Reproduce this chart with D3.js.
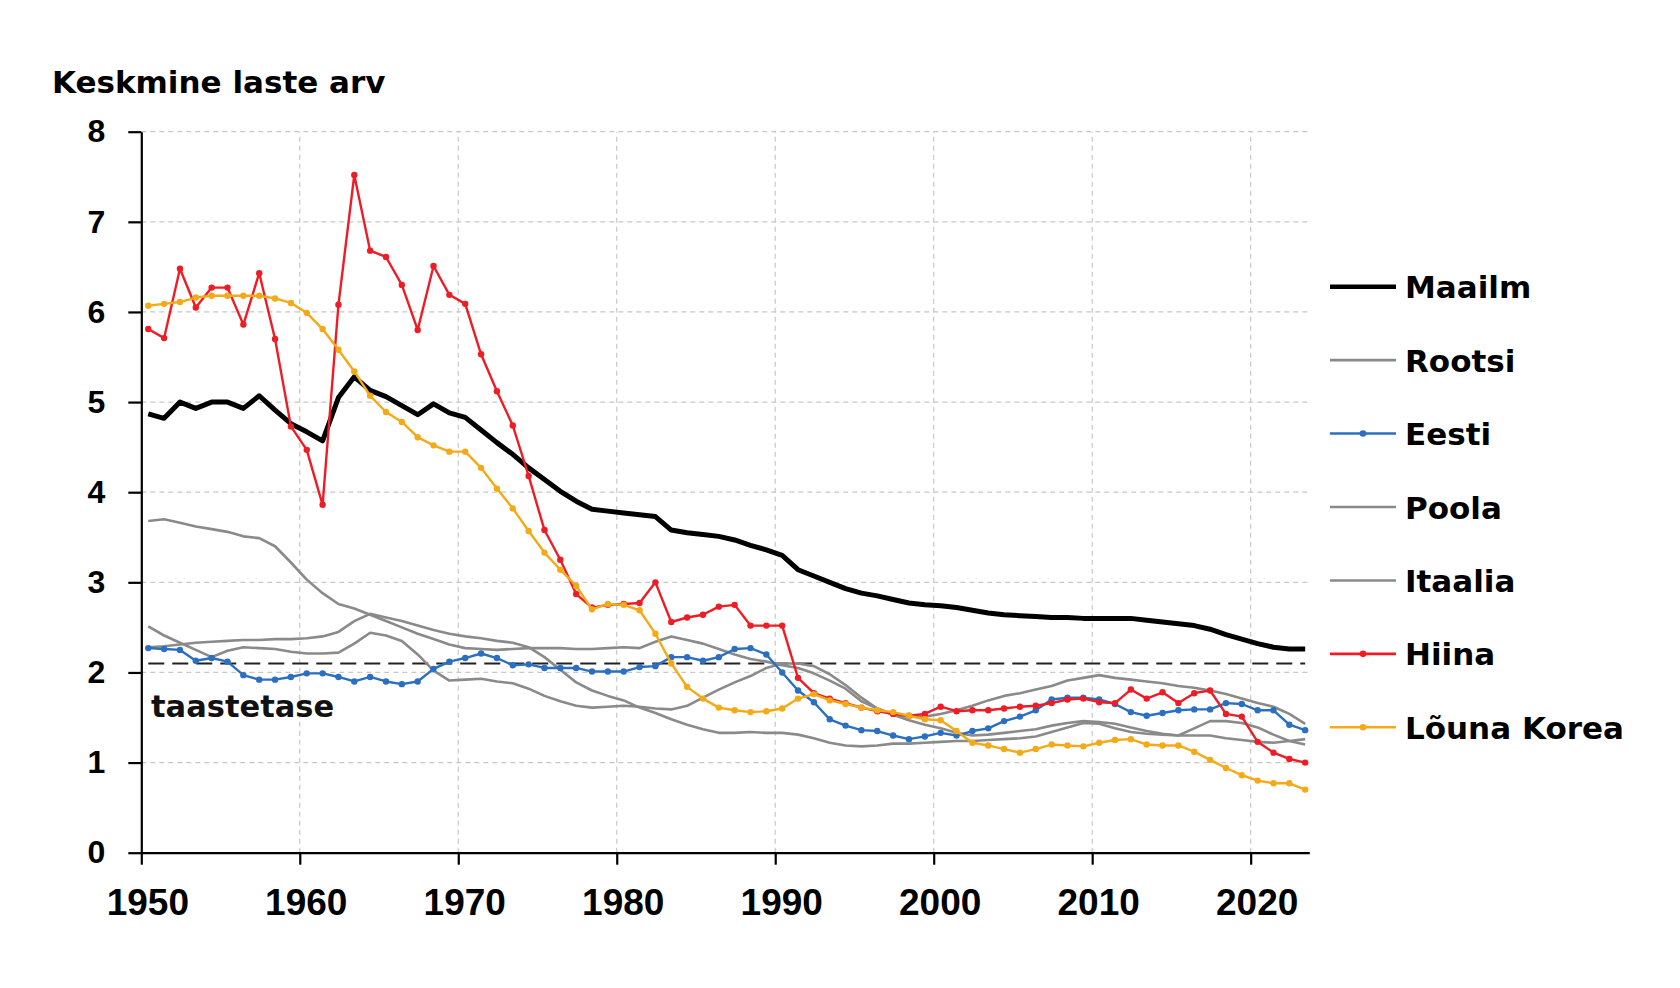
<!DOCTYPE html>
<html>
<head>
<meta charset="utf-8">
<script src="https://cdn.jsdelivr.net/npm/d3@7"></script>
<style>
  html, body { margin: 0; padding: 0; background: #fff; }
  svg { display: block; font-family: "DejaVu Sans", Lato, sans-serif; }
</style>
</head>
<body>
<svg id="chart" width="1680" height="988"></svg>
<script>
// ---------- data ----------
const years = d3.range(1950, 2024);
const yTicks = [0, 1, 2, 3, 4, 5, 6, 7, 8];
const xTicks = [1950, 1960, 1970, 1980, 1990, 2000, 2010, 2020];
const replacementLevel = 2.1;

const maailm = [
  4.87, 4.82, 5.00, 4.93, 5.00, 5.00, 4.93, 5.07, 4.91, 4.76,
  4.67, 4.57, 5.05, 5.28, 5.13, 5.06, 4.96, 4.86, 4.98, 4.88,
  4.83, 4.69, 4.55, 4.42, 4.27, 4.14, 4.01, 3.90, 3.81, 3.79,
  3.77, 3.75, 3.73, 3.58, 3.55, 3.53, 3.51, 3.47, 3.41, 3.36,
  3.30, 3.14, 3.07, 3.00, 2.93, 2.88, 2.85, 2.81, 2.77, 2.75,
  2.74, 2.72, 2.69, 2.66, 2.64, 2.63, 2.62, 2.61, 2.61, 2.60,
  2.60, 2.60, 2.60, 2.58, 2.56, 2.54, 2.52, 2.48, 2.42, 2.37,
  2.32, 2.28, 2.26, 2.26
];
const rootsi = [
  2.51, 2.41, 2.33, 2.25, 2.17, 2.24, 2.28, 2.27, 2.26, 2.23,
  2.21, 2.21, 2.22, 2.32, 2.44, 2.41, 2.35, 2.20, 2.02, 1.91,
  1.92, 1.93, 1.90, 1.88, 1.82, 1.74, 1.68, 1.63, 1.61, 1.62,
  1.63, 1.62, 1.60, 1.59, 1.63, 1.72, 1.81, 1.89, 1.96, 2.05,
  2.10, 2.10, 2.07, 1.98, 1.86, 1.72, 1.60, 1.53, 1.51, 1.51,
  1.54, 1.58, 1.63, 1.69, 1.74, 1.77, 1.81, 1.85, 1.91, 1.94,
  1.97, 1.94, 1.92, 1.90, 1.88, 1.85, 1.83, 1.80, 1.76, 1.71,
  1.66, 1.62, 1.54, 1.43
];
const eesti = [
  2.27, 2.26, 2.25, 2.13, 2.16, 2.12, 1.97, 1.92, 1.92, 1.95,
  1.99, 1.99, 1.95, 1.90, 1.95, 1.90, 1.87, 1.90, 2.04, 2.12,
  2.16, 2.21, 2.16, 2.08, 2.09, 2.05, 2.05, 2.05, 2.01, 2.01,
  2.01, 2.06, 2.07, 2.17, 2.17, 2.13, 2.17, 2.26, 2.27, 2.20,
  2.00, 1.80, 1.67, 1.48, 1.41, 1.36, 1.35, 1.30, 1.26, 1.29,
  1.33, 1.30, 1.35, 1.38, 1.46, 1.51, 1.58, 1.70, 1.72, 1.72,
  1.70, 1.65, 1.56, 1.52, 1.55, 1.58, 1.59, 1.59, 1.66, 1.65,
  1.58, 1.58, 1.42, 1.36
];
const poola = [
  3.68, 3.70, 3.66, 3.62, 3.59, 3.56, 3.51, 3.49, 3.40, 3.22,
  3.03, 2.88, 2.76, 2.71, 2.64, 2.57, 2.50, 2.43, 2.37, 2.31,
  2.27, 2.26, 2.25, 2.26, 2.27, 2.27, 2.27, 2.26, 2.26, 2.27,
  2.28, 2.27, 2.34, 2.40, 2.36, 2.32, 2.26, 2.20, 2.15, 2.12,
  2.08, 2.05, 1.99, 1.91, 1.82, 1.68, 1.60, 1.53, 1.47, 1.42,
  1.38, 1.33, 1.30, 1.31, 1.33, 1.35, 1.37, 1.41, 1.44, 1.46,
  1.45, 1.43, 1.39, 1.35, 1.32, 1.30, 1.38, 1.46, 1.46, 1.44,
  1.39, 1.31, 1.24, 1.20
];
const itaalia = [
  2.28, 2.29, 2.31, 2.33, 2.34, 2.35, 2.36, 2.36, 2.37, 2.37,
  2.38, 2.40, 2.45, 2.57, 2.65, 2.61, 2.57, 2.52, 2.47, 2.43,
  2.40, 2.38, 2.35, 2.33, 2.28, 2.17, 2.03, 1.89, 1.80, 1.74,
  1.69, 1.61, 1.55, 1.48, 1.42, 1.37, 1.33, 1.33, 1.34, 1.33,
  1.33, 1.31, 1.27, 1.22, 1.19, 1.18, 1.19, 1.21, 1.21, 1.22,
  1.23, 1.24, 1.24, 1.25, 1.26, 1.27, 1.29, 1.34, 1.39, 1.44,
  1.43, 1.38, 1.34, 1.32, 1.31, 1.30, 1.30, 1.30, 1.27, 1.25,
  1.23, 1.22, 1.24, 1.26
];
const hiina = [
  5.81, 5.71, 6.48, 6.05, 6.27, 6.27, 5.86, 6.43, 5.70, 4.73,
  4.47, 3.86, 6.08, 7.52, 6.68, 6.61, 6.30, 5.80, 6.51, 6.19,
  6.09, 5.53, 5.12, 4.74, 4.18, 3.58, 3.25, 2.87, 2.72, 2.75,
  2.76, 2.77, 3.00, 2.56, 2.61, 2.64, 2.73, 2.75, 2.52, 2.52,
  2.52, 1.94, 1.77, 1.71, 1.66, 1.61, 1.57, 1.54, 1.52, 1.54,
  1.62, 1.57, 1.58, 1.58, 1.60, 1.62, 1.63, 1.66, 1.70, 1.71,
  1.67, 1.66, 1.81, 1.71, 1.78, 1.66, 1.77, 1.80, 1.54, 1.51,
  1.23, 1.11, 1.04, 1.00
];
const lounaKorea = [
  6.07, 6.09, 6.11, 6.16, 6.18, 6.18, 6.18, 6.18, 6.15, 6.10,
  5.99, 5.81, 5.58, 5.34, 5.07, 4.89, 4.78, 4.61, 4.52, 4.45,
  4.45, 4.27, 4.04, 3.82, 3.57, 3.33, 3.14, 2.96, 2.70, 2.76,
  2.75, 2.69, 2.43, 2.10, 1.84, 1.71, 1.61, 1.58, 1.56, 1.57,
  1.60, 1.71, 1.76, 1.69, 1.65, 1.61, 1.58, 1.56, 1.52, 1.48,
  1.47, 1.35, 1.22, 1.19, 1.15, 1.11, 1.15, 1.20, 1.19, 1.18,
  1.22, 1.25, 1.26, 1.20, 1.19, 1.19, 1.12, 1.03, 0.94, 0.86,
  0.80, 0.77, 0.77, 0.70
];

const seriesNames = ["Maailm", "Rootsi", "Eesti", "Poola", "Itaalia", "Hiina", "Lõuna Korea"];
const seriesValues = [maailm, rootsi, eesti, poola, itaalia, hiina, lounaKorea];

// ---------- styles ----------
const styleByName = {
  "Maailm":      { color: "#000000", width: 5,   markers: false },
  "Rootsi":      { color: "#8a8a8a", width: 2.6, markers: false },
  "Eesti":       { color: "#2b6fc0", width: 2.4, markers: true },
  "Poola":       { color: "#8a8a8a", width: 2.6, markers: false },
  "Itaalia":     { color: "#8a8a8a", width: 2.6, markers: false },
  "Hiina":       { color: "#ee1c25", width: 2.4, markers: true },
  "Lõuna Korea": { color: "#f4aa17", width: 2.4, markers: true }
};
const drawOrder = ["Rootsi", "Poola", "Itaalia", "Maailm", "Eesti", "Hiina", "Lõuna Korea"];

// ---------- layout ----------
const svg = d3.select("#chart");
const x = d3.scaleLinear().domain([1950, 2023.7]).range([141.3, 1309.3]);
const y = d3.scaleLinear().domain([0, 8]).range([852.7, 131.7]);
const pointOffset = 0.44;
const FONT = "'DejaVu Sans', Lato, sans-serif";
const NUM_FONT = "'Liberation Sans', Arial, sans-serif";
const FS = 30.5;

// grid
const grid = svg.append("g").attr("class", "grid");
grid.selectAll("line.h").data(yTicks.filter(d => d > 0)).join("line")
  .attr("class", "h")
  .attr("x1", x(1950)).attr("x2", x(2023.7))
  .attr("y1", d => y(d)).attr("y2", d => y(d))
  .attr("stroke", "#c8c8c8").attr("stroke-width", 1.2).attr("stroke-dasharray", "5,4");
grid.selectAll("line.v").data(xTicks.filter(d => d > 1950)).join("line")
  .attr("class", "v")
  .attr("x1", d => x(d)).attr("x2", d => x(d))
  .attr("y1", y(0)).attr("y2", y(8))
  .attr("stroke", "#c8c8c8").attr("stroke-width", 1.2).attr("stroke-dasharray", "5,4");

// replacement level
svg.append("line")
  .attr("x1", x(1950 + pointOffset)).attr("x2", x(2023 + pointOffset))
  .attr("y1", y(replacementLevel)).attr("y2", y(replacementLevel))
  .attr("stroke", "#222").attr("stroke-width", 2).attr("stroke-dasharray", "16,8");
svg.append("text")
  .attr("x", 151).attr("y", 717)
  .attr("font-family", FONT).attr("font-size", FS).attr("font-weight", 700).attr("fill", "#111")
  .text("taastetase");

// axes
const yAxis = d3.axisLeft(y).tickValues(yTicks).tickFormat(d3.format("d"))
  .tickSize(13).tickSizeOuter(0).tickPadding(23);
const gy = svg.append("g").attr("transform", `translate(${x(1950)},0)`).call(yAxis);
gy.select(".domain").attr("stroke", "#000").attr("stroke-width", 2.2);
gy.selectAll(".tick line").attr("stroke", "#000").attr("stroke-width", 2.2);
gy.selectAll(".tick text").attr("font-size", 32).attr("font-weight", 700)
  .attr("fill", "#000").attr("font-family", NUM_FONT);

const xAxis = d3.axisBottom(x).tickValues(xTicks).tickFormat(d3.format("d"))
  .tickSize(12).tickSizeOuter(0).tickPadding(24);
const gx = svg.append("g").attr("transform", `translate(0,${y(0)})`).call(xAxis);
gx.select(".domain").attr("stroke", "#000").attr("stroke-width", 2.2);
gx.selectAll(".tick line").attr("stroke", "#000").attr("stroke-width", 2.2);
gx.selectAll(".tick text").attr("font-size", 37).attr("font-weight", 700)
  .attr("fill", "#000").attr("dx", 6).attr("font-family", NUM_FONT);

// title
svg.append("text").attr("x", 52).attr("y", 93)
  .attr("font-family", FONT).attr("font-size", 31).attr("font-weight", 700).attr("fill", "#000")
  .text("Keskmine laste arv");

// series
const line = d3.line().x(d => x(d.year + pointOffset)).y(d => y(d.value));
const seriesData = seriesNames.map((name, i) => ({
  name,
  points: years.map((yr, j) => ({ year: yr, value: seriesValues[i][j] }))
}));
const plot = svg.append("g").attr("class", "series");
drawOrder.forEach(name => {
  const s = seriesData.find(d => d.name === name);
  const st = styleByName[name];
  const g = plot.append("g");
  g.append("path").datum(s.points)
    .attr("fill", "none").attr("stroke", st.color).attr("stroke-width", st.width)
    .attr("stroke-linejoin", "round").attr("d", line);
  if (st.markers) {
    g.selectAll("circle").data(s.points).join("circle")
      .attr("cx", d => x(d.year + pointOffset)).attr("cy", d => y(d.value))
      .attr("r", 3.2).attr("fill", st.color);
  }
});

// legend
const legendY = d3.scalePoint().domain(seriesNames).range([286.7, 727.3]);
const lg = svg.append("g").attr("class", "legend");
seriesNames.forEach(name => {
  const st = styleByName[name];
  const ly = legendY(name);
  lg.append("line").attr("x1", 1330).attr("x2", 1396).attr("y1", ly).attr("y2", ly)
    .attr("stroke", st.color).attr("stroke-width", name === "Maailm" ? 4.5 : 2.6);
  if (st.markers) {
    lg.append("circle").attr("cx", 1363).attr("cy", ly).attr("r", 3.3).attr("fill", st.color);
  }
  lg.append("text").attr("x", 1405).attr("y", ly + 11.5)
    .attr("font-family", FONT).attr("font-size", 31).attr("font-weight", 700).attr("fill", "#000")
    .text(name);
});
</script>
</body>
</html>
